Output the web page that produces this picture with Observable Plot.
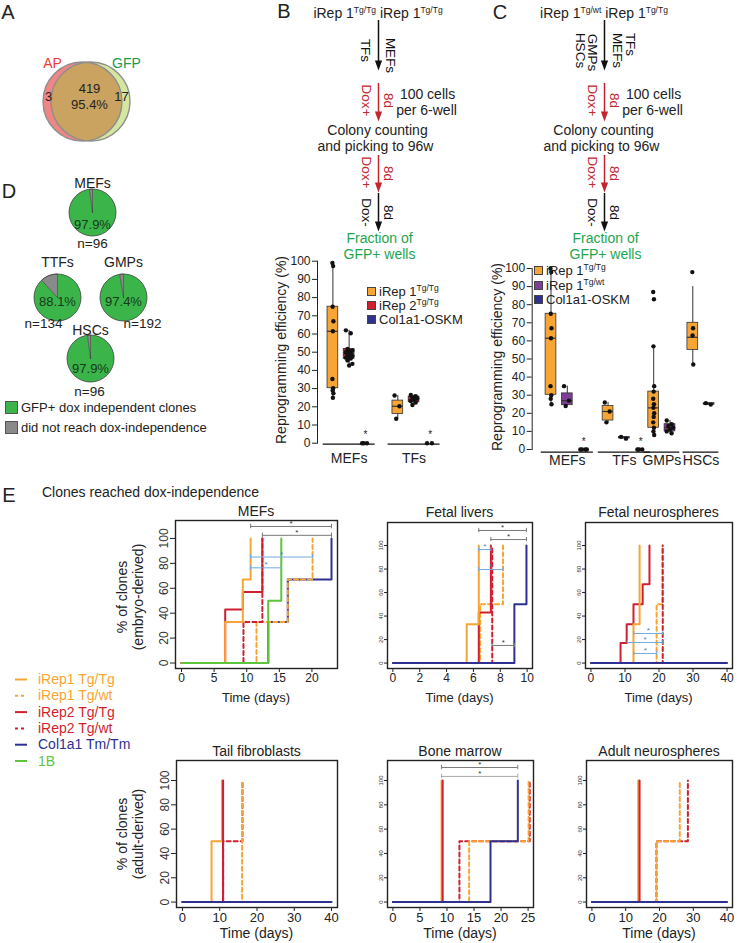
<!DOCTYPE html>
<html><head><meta charset="utf-8">
<script src="https://cdn.jsdelivr.net/npm/d3@7"></script>
<script src="https://cdn.jsdelivr.net/npm/@observablehq/plot@0.6"></script>
<style>
html,body{margin:0;padding:0;background:#fff;}
#fig{position:relative;width:737px;height:943px;overflow:hidden;font-family:"Liberation Sans",Arial,Helvetica,sans-serif;color:#222;}
.abs{position:absolute;}
.t{position:absolute;white-space:nowrap;line-height:1;}
.t sup{font-size:8.5px;vertical-align:0;position:relative;top:-5px;line-height:0;}
svg{overflow:visible;}
</style></head><body><div id="fig"></div>
<script>
// ================= DATA =================
// A: overlap of AP+ and GFP+ colonies
const vennSets = ["AP", "GFP"];
const vennOnly = [3, 17];
const vennShared = 419;
const vennSharedPct = "95.4%";

// B / C: workflow labels
const flowBHeader = ["Tg/Tg", "Tg/Tg"];
const flowCHeader = ["Tg/wt", "Tg/Tg"];
const flowBSources = ["TFs", "MEFs"];
const flowCSourcesLeft = ["HSCs", "GMPs"];
const flowCSourcesRight = ["MEFs", "TFs"];
const flowStepLabels = [["Dox+", "8d"], ["Dox+", "8d"], ["Dox-", "8d"]];
const flowTexts = ["100 cells", "per 6-well", "Colony counting", "and picking to 96w", "Fraction of", "GFP+ wells"];

// B: reprogramming efficiency (%)
const bGroups = ["MEFs", "TFs"];
const bSeries = ["iRep 1", "iRep 2", "Col1a1-OSKM"];
const bSeriesSup = ["Tg/Tg", "Tg/Tg", ""];
// group, series, q1, median, q3, whisker low, whisker high
const bBoxes = [
  [0, 0, 30.2, 61.5, 75, 25, 99],
  [0, 1, 46.3, 49, 51.8, 42.7, 62],
  [1, 0, 16.1, 20.3, 23.4, 13.4, 26.2],
  [1, 1, 22.5, 24, 25.6, 21, 26.5]
];
const bPoints = [
  [0, 0, [99, 97.3, 75, 67, 61.5, 35.3, 30.2, 29, 27.5, 25]],
  [0, 1, [62, 60.4, 51.8, 51, 50.5, 50, 49.5, 49, 48, 47.5, 47, 46.5, 45.5, 43.6, 42.7]],
  [0, 2, [0, 0, 0]],
  [1, 0, [26.2, 20.3, 13.4]],
  [1, 1, [26.5, 25.8, 25.2, 24.6, 24, 23.2, 22.3, 21]],
  [1, 2, [0, 0]]
];
const bStars = [[0, 2], [1, 2]];

// C: reprogramming efficiency (%)
const cGroups = ["MEFs", "TFs", "GMPs", "HSCs"];
const cSeries = ["iRep 1", "iRep 1", "Col1a1-OSKM"];
const cSeriesSup = ["Tg/Tg", "Tg/wt", ""];
const cBoxes = [
  [0, 0, 30.2, 61.5, 75, 25, 99],
  [0, 1, 24.5, 27, 31, 24, 35],
  [1, 0, 16, 21, 24, 15, 26],
  [1, 1, 6.2, 6.5, 6.9, 6, 7],
  [2, 0, 12, 23, 32, 8, 57],
  [2, 1, 10, 12, 14, 9, 16],
  [3, 0, 55, 62, 70, 47, 90],
  [3, 1, 24.8, 25.2, 25.6, 24.8, 25.6]
];
const cPoints = [
  [0, 0, [100, 98, 75, 67, 61.5, 35, 30, 28, 25]],
  [0, 1, [35, 27, 24]],
  [0, 2, [0, 0, 0, 0]],
  [1, 0, [26, 21, 15]],
  [1, 1, [7, 6]],
  [1, 2, [0, 0, 0]],
  [2, 0, [87, 83, 57, 35, 32, 28, 25, 23, 20, 18, 15, 12, 10, 8]],
  [2, 1, [16, 14, 13, 12, 11, 10, 9]],
  [3, 0, [98, 67, 63, 47]],
  [3, 1, [25.6, 24.8]]
];
const cStars = [[0, 2], [1, 2]];

// D: fraction of GFP+ dox independent clones
const pieSources = ["MEFs", "TTFs", "GMPs", "HSCs"];
const pieGFPpct = [97.9, 88.1, 97.4, 97.9];
const pieN = [96, 134, 192, 96];
const pieLegend = ["GFP+ dox independent clones", "did not reach dox-independence"];

// E: % of clones reaching dox-independence over time: [day, %] change points (all start at 0,0)
const eSeries = ["iRep1 Tg/Tg", "iRep1 Tg/wt", "iRep2 Tg/Tg", "iRep2 Tg/wt", "Col1a1 Tm/Tm", "1B"];
const stepMEFs = {
  "iRep1 Tg/Tg": [[6.7, 33], [9.4, 67], [10.6, 100]],
  "iRep1 Tg/wt": [[11.5, 33], [16.3, 67], [20.1, 100]],
  "iRep2 Tg/Tg": [[6.7, 43], [9.4, 57], [12.4, 100]],
  "iRep2 Tg/wt": [[9.5, 33], [12.4, 100]],
  "Col1a1 Tm/Tm": [[13.3, 33], [16.3, 67], [23, 100]],
  "1B": [[13.3, 50], [15.3, 100]]
};
const stepFetalLivers = {
  "iRep1 Tg/Tg": [[5.5, 33], [6.4, 100]],
  "iRep1 Tg/wt": [[6.5, 50], [8.2, 100]],
  "iRep2 Tg/Tg": [[6.4, 43], [7.3, 100]],
  "iRep2 Tg/wt": [[7.4, 100]],
  "Col1a1 Tm/Tm": [[9.05, 50], [9.95, 100]]
};
const stepFetalNeuro = {
  "iRep1 Tg/Tg": [[12.5, 33], [14.3, 100]],
  "iRep1 Tg/wt": [[19.3, 50], [21, 100]],
  "iRep2 Tg/Tg": [[8.7, 17], [10.5, 33], [12.5, 50], [15.2, 67], [17.2, 100]],
  "iRep2 Tg/wt": [[21.1, 100]],
  "Col1a1 Tm/Tm": [[40, 0]]
};
const stepTailFib = {
  "iRep1 Tg/Tg": [[7.8, 50], [10.6, 100]],
  "iRep1 Tg/wt": [[16, 100]],
  "iRep2 Tg/Tg": [[10.9, 100]],
  "iRep2 Tg/wt": [[10.9, 50], [16.1, 100]],
  "Col1a1 Tm/Tm": [[40, 0]]
};
const stepBoneMarrow = {
  "iRep1 Tg/Tg": [[9.0, 100]],
  "iRep1 Tg/wt": [[14.1, 50], [25.1, 100]],
  "iRep2 Tg/Tg": [[9.2, 100]],
  "iRep2 Tg/wt": [[12.3, 50], [25.3, 100]],
  "Col1a1 Tm/Tm": [[18.05, 50], [23.1, 100]]
};
const stepAdultNeuro = {
  "iRep1 Tg/Tg": [[13.7, 100]],
  "iRep1 Tg/wt": [[19.1, 50], [26, 100]],
  "iRep2 Tg/Tg": [[14.1, 100]],
  "iRep2 Tg/wt": [[19.1, 50], [28.4, 100]],
  "Col1a1 Tm/Tm": [[40, 0]]
};
// significance brackets: [day from, day to, height (%), kind]
const sigMEFs = [[10.6, 23, 109.6, "g"], [12.4, 23, 102.5, "g"], [10.6, 20.1, 85.1, "b"], [10.6, 15.3, 76.4, "b"]];
const sigFetalLivers = [[6.4, 9.95, 112.8, "g"], [7.3, 9.95, 105.1, "g"], [6.4, 7.3, 96.6, "b"], [6.4, 8.2, 79.6, "b"], [7.4, 9.05, 15, "g"]];
const sigFetalNeuro = [[12.6, 21.1, 25.2, "b"], [10.7, 21.1, 17.5, "b"], [12.6, 19.3, 8.2, "b"]];
const sigBoneMarrow = [[9.0, 23.1, 110.7, "g"], [9.0, 23.1, 103.4, "lg"]];

// ================= STYLE / HELPERS =================
const FONT = '"Liberation Sans", Arial, Helvetica, sans-serif';
const ORANGE = "#f7a535", RED = "#d01f2f", NAVY = "#2e3192", PURPLE = "#7e3f98", LGREEN = "#5ec43b";
const GTXT = "#1ea64c", DRED = "#c4242c", INK = "#222";
const eColor = [ORANGE, ORANGE, RED, RED, NAVY, LGREEN];
const eDash = [false, true, false, true, false, false];
const fig = document.getElementById("fig");

function put(node, left, top, w, h) {
  const d = document.createElement("div");
  d.className = "abs";
  d.style.left = left + "px"; d.style.top = top + "px";
  if (w) d.style.width = w + "px";
  if (h) d.style.height = h + "px";
  d.appendChild(node); fig.appendChild(d); return d;
}
function txt(html, x, y, o = {}) {
  const {size = 14, color = INK, anchor = "middle", rot = 0} = o;
  const d = document.createElement("div");
  d.className = "t"; d.innerHTML = html;
  d.style.fontSize = size + "px"; d.style.color = color;
  d.style.left = x + "px"; d.style.top = y + "px";
  const tx = anchor === "middle" ? "-50%" : anchor === "end" ? "-100%" : "0";
  d.style.transform = `translate(${tx},-50%)` + (rot ? ` rotate(${rot}deg)` : "");
  fig.appendChild(d);
}
function pix(left, top, w, h, marks) {
  const svg = Plot.plot({
    width: w, height: h, marginTop: 0, marginRight: 0, marginBottom: 0, marginLeft: 0,
    x: {domain: [left, left + w], range: [0, w], axis: null},
    y: {domain: [top, top + h], range: [0, h], axis: null},
    style: {background: "transparent", fontFamily: FONT, overflow: "visible", color: INK},
    marks
  });
  put(svg, left, top, w, h);
}

// ================= PANEL LETTERS =================
[["A", 8, 12], ["B", 284, 11], ["C", 500, 12], ["D", 9, 191], ["E", 9, 495]].forEach(([l, x, y]) => txt(l, x, y, {size: 20}));

// ================= A: Venn =================
(function () {
  const R = 39.5;
  const red = {cx: 82, cy: 101, r: R}, grn = {cx: 90, cy: 101, r: R};
  const lens = [];
  for (let i = 0; i < 360; i += 2) {
    const a = i * Math.PI / 180;
    const xr = red.cx + red.r * Math.cos(a), yr = red.cy + red.r * Math.sin(a);
    if (Math.hypot(xr - grn.cx, yr - grn.cy) <= grn.r) lens.push({x: xr, y: yr});
    const xg = grn.cx + grn.r * Math.cos(a), yg = grn.cy + grn.r * Math.sin(a);
    if (Math.hypot(xg - red.cx, yg - red.cy) <= red.r) lens.push({x: xg, y: yg});
  }
  const mx = (red.cx + grn.cx) / 2;
  lens.sort((p, q) => Math.atan2(p.y - red.cy, p.x - mx) - Math.atan2(q.y - red.cy, q.x - mx));
  pix(0, 40, 150, 120, [
    Plot.dot([grn], {x: "cx", y: "cy", r: R, fill: "#d4e7a1"}),
    Plot.dot([red], {x: "cx", y: "cy", r: R, fill: "#ef8585"}),
    Plot.line(lens, {x: "x", y: "y", fill: "#c9a35f", stroke: "none"}),
    Plot.dot([red, grn], {x: "cx", y: "cy", r: R, fill: "none", stroke: "#8e8e8e", strokeWidth: 1.4}),
    Plot.text([{t: vennSets[0], x: 52, y: 63}], {x: "x", y: "y", text: "t", fill: "#ee3b3b", fontSize: 14}),
    Plot.text([{t: vennSets[1], x: 126, y: 63}], {x: "x", y: "y", text: "t", fill: "#1a9a4c", fontSize: 14}),
    Plot.text([{t: String(vennOnly[0]), x: 48, y: 96}, {t: String(vennOnly[1]), x: 121, y: 96},
               {t: String(vennShared), x: 89, y: 88}, {t: vennSharedPct, x: 89, y: 104}],
      {x: "x", y: "y", text: "t", fill: INK, fontSize: 13})
  ]);
})();

// ================= B / C: workflows =================
(function () {
  const arrows = [[20, 70, "#111"], [83, 121, DRED], [155, 192, DRED], [193, 231, "#111"]];
  const marks = [];
  for (const X of [378, 604]) {
    for (const [y1, y2, c] of arrows) {
      marks.push(Plot.ruleX([{x: X, y1, y2: y2 - 8}], {x: "x", y1: "y1", y2: "y2", stroke: c, strokeWidth: 1.5}));
      marks.push(Plot.line([{x: X - 3.6, y: y2 - 10}, {x: X + 3.6, y: y2 - 10}, {x: X, y: y2}], {x: "x", y: "y", fill: c, stroke: "none"}));
    }
    const rot = [];
    const stepY = [[100, 100], [172, 173], [212, 212]];
    flowStepLabels.forEach(([l, r], i) => {
      const c = i < 2 ? DRED : "#111";
      rot.push({t: l, x: X - 12, y: stepY[i][0], c});
      rot.push({t: r, x: X + 10, y: stepY[i][1], c});
    });
    if (X === 378) {
      rot.push({t: flowBSources[0], x: X - 13, y: 50, c: "#111"});
      rot.push({t: flowBSources[1], x: X + 12, y: 55, c: "#111"});
    } else {
      rot.push({t: flowCSourcesLeft[0], x: X - 24, y: 50, c: "#111"});
      rot.push({t: flowCSourcesLeft[1], x: X - 12, y: 52, c: "#111"});
      rot.push({t: flowCSourcesRight[0], x: X + 13, y: 50, c: "#111"});
      rot.push({t: flowCSourcesRight[1], x: X + 26, y: 44, c: "#111"});
    }
    for (const c of ["#111", DRED]) {
      marks.push(Plot.text(rot.filter(d => d.c === c), {x: "x", y: "y", text: "t", rotate: 90, fill: c, fontSize: 13.5}));
    }
    const hz = [[49, 94], [48, 110], [-1, 130], [-3, 146], [1, 238], [1, 254]];
    const hd = flowTexts.map((t, i) => ({t, x: X + hz[i][0], y: hz[i][1], g: i >= 4}));
    marks.push(Plot.text(hd.filter(d => !d.g), {x: "x", y: "y", text: "t", fill: INK, fontSize: 14}));
    marks.push(Plot.text(hd.filter(d => d.g), {x: "x", y: "y", text: "t", fill: GTXT, fontSize: 14}));
  }
  pix(270, 0, 467, 262, marks);
  txt(`iRep 1<sup>${flowBHeader[0]}</sup> iRep 1<sup>${flowBHeader[1]}</sup>`, 378, 13, {size: 14});
  txt(`iRep 1<sup>${flowCHeader[0]}</sup> iRep 1<sup>${flowCHeader[1]}</sup>`, 604, 13, {size: 14});
})();

// ================= B / C: box plots =================
function boxPanel(o) {
  const {left, top, width, height, axisX, zeroY, hundredY, pos0X, unitX, posOf, groups, boxes, points, stars, colors, labelDy, lineVal} = o;
  const MR = 2;
  const ML = axisX - left, MT = hundredY - top, MB = top + height - zeroY;
  const xmin = (axisX - pos0X) / unitX, xmax = (left + width - MR - pos0X) / unitX;
  const bx = boxes.map(([g, s, q1, med, q3, lo, hi]) => ({s, pos: posOf(g, s), q1, med, q3, lo, hi}));
  const pts = points.flatMap(([g, s, vals]) => {
    const box = boxes.find(b => b[0] === g && b[1] === s);
    const amp = box && box[4] - box[2] > 10 ? 0.03 : 0.2;
    return vals.map((v, i) => ({x: posOf(g, s) + amp * (((i * 3) % 5) - 2) / 2, y: v}));
  });
  const gl = groups.map((name, gi) => {
    const ps = boxes.filter(b => b[0] === gi).map(b => posOf(gi, b[1]))
      .concat(points.filter(p => p[0] === gi).map(p => posOf(gi, p[1])));
    const a = Math.min(...ps), b = Math.max(...ps);
    return {name, x1: a - 0.6, x2: b + 0.6, xc: (a + b) / 2};
  });
  const marks = [];
  marks.push(Plot.ruleY(gl, {x1: "x1", x2: "x2", y: () => lineVal, stroke: "#111", strokeWidth: 1.3}));
  marks.push(Plot.text(gl, {x: "xc", y: () => 0, text: "name", dy: labelDy, fontSize: 14, fill: INK}));
  marks.push(Plot.ruleX(bx, {x: "pos", y1: "lo", y2: "hi", stroke: "#333", strokeWidth: 1}));
  colors.forEach((c, s) => {
    marks.push(Plot.rect(bx.filter(d => d.s === s), {x1: d => d.pos - 0.33, x2: d => d.pos + 0.33, y1: "q1", y2: "q3", fill: c, stroke: "#333", strokeWidth: 0.8}));
  });
  marks.push(Plot.ruleY(bx, {x1: d => d.pos - 0.33, x2: d => d.pos + 0.33, y: "med", stroke: "#333", strokeWidth: 1.2}));
  marks.push(Plot.dot(pts, {x: "x", y: "y", r: 2.2, fill: "#111", stroke: "none"}));
  marks.push(Plot.text(stars.map(([g, s]) => ({x: posOf(g, s)})), {x: "x", y: () => 0, text: () => "*", dy: -8, fontSize: 10, fill: "#222"}));
  const svg = Plot.plot({
    width, height, marginLeft: ML, marginRight: MR, marginTop: MT, marginBottom: MB,
    x: {domain: [xmin, xmax], axis: null},
    y: {domain: [0, 100], ticks: d3.range(0, 101, 10), tickSize: 5, tickPadding: 2, line: true, label: null},
    style: {background: "transparent", fontFamily: FONT, fontSize: "12px", overflow: "visible", color: INK},
    marks
  });
  put(svg, left, top, width, height);
}

boxPanel({left: 265, top: 250, width: 190, height: 215, axisX: 317, zeroY: 442.7, hundredY: 260.7, pos0X: 332.4, unitX: 16.23,
  posOf: (g, s) => g * 4 + s, groups: bGroups, boxes: bBoxes, points: bPoints, stars: bStars,
  colors: [ORANGE, RED, NAVY], labelDy: 15.5, lineVal: -0.5});
const cPos = [[0, 1, 2], [3.5, 4.5, 5.5], [6.3, 7.3], [8.7, 9.7]];
boxPanel({left: 480, top: 250, width: 257, height: 220, axisX: 531.7, zeroY: 449, hundredY: 268, pos0X: 550.5, unitX: 16.3,
  posOf: (g, s) => cPos[g][s], groups: cGroups, boxes: cBoxes, points: cPoints, stars: cStars,
  colors: [ORANGE, PURPLE, NAVY], labelDy: 11, lineVal: -1.4});

txt("Reprogramming efficiency (%)", 281, 350, {size: 14, rot: -90});
txt("Reprogramming efficiency (%)", 497, 357, {size: 14, rot: -90});

function legendBox(x, ys, names, sups, colors) {
  names.forEach((n, i) => {
    const sq = document.createElement("div");
    sq.style.cssText = `position:absolute;left:${x}px;top:${ys[i] - 4}px;width:7px;height:7px;background:${colors[i]};border:1px solid #444;`;
    fig.appendChild(sq);
    txt(n + (sups[i] ? `<sup>${sups[i]}</sup>` : ""), x + 12, ys[i], {size: 13, anchor: "start"});
  });
}
legendBox(367, [291, 305, 319], bSeries, bSeriesSup, [ORANGE, RED, NAVY]);
legendBox(534, [270, 284.5, 299], cSeries, cSeriesSup, [ORANGE, PURPLE, NAVY]);

// ================= D: pies =================
(function () {
  const R = 23.5;
  const lay = [
    {cx: 92, cy: 212, ty: 183, nx: 92, ny: 243, py: 224},
    {cx: 57, cy: 297, ty: 262, nx: 43, ny: 323, py: 301},
    {cx: 123, cy: 297, ty: 262, nx: 142, ny: 323, py: 301},
    {cx: 90, cy: 358, ty: 330, nx: 89, ny: 391, py: 368}];
  function wedge(cx, cy, a0, a1, k) {
    const out = [{k, x: cx, y: cy}];
    const n = Math.max(2, Math.ceil(Math.abs(a1 - a0) / 3));
    for (let i = 0; i <= n; i++) {
      const a = (a0 + (a1 - a0) * i / n) * Math.PI / 180;
      out.push({k, x: cx + R * Math.sin(a), y: cy - R * Math.cos(a)});
    }
    out.push({k, x: cx, y: cy});
    return out;
  }
  const green = [], gray = [];
  pieGFPpct.forEach((p, i) => {
    const g = 360 * (100 - p) / 100, L = lay[i];
    gray.push(...wedge(L.cx, L.cy, -g, 0, i));
    green.push(...wedge(L.cx, L.cy, 0, 360 - g, i));
  });
  pix(0, 165, 180, 245, [
    Plot.line(green, {x: "x", y: "y", z: "k", fill: "#3bb54a", stroke: "none"}),
    Plot.line(gray, {x: "x", y: "y", z: "k", fill: "#8a8a8a", stroke: "#333", strokeWidth: 0.6}),
    Plot.dot(lay, {x: "cx", y: "cy", r: R, fill: "none", stroke: "#444", strokeWidth: 0.8}),
    Plot.text(lay.map((L, i) => ({x: L.cx, y: L.ty, t: pieSources[i]})), {x: "x", y: "y", text: "t", fontSize: 14, fill: INK}),
    Plot.text(lay.map((L, i) => ({x: L.nx, y: L.ny, t: "n=" + pieN[i]})), {x: "x", y: "y", text: "t", fontSize: 13.5, fill: INK}),
    Plot.text(lay.map((L, i) => ({x: L.cx, y: L.py, t: pieGFPpct[i].toFixed(1) + "%"})), {x: "x", y: "y", text: "t", fontSize: 13, fill: "#173a1c"})
  ]);
  [["#3bb54a", 407], ["#8a8a8a", 427]].forEach(([c, y], i) => {
    const sq = document.createElement("div");
    sq.style.cssText = `position:absolute;left:5px;top:${y - 6}px;width:11px;height:11px;background:${c};border:1px solid #555;`;
    fig.appendChild(sq);
    txt(pieLegend[i], 21, y, {size: 13, anchor: "start"});
  });
})();

// ================= E: step plots =================
txt("Clones reached dox-independence", 42, 492, {size: 14, anchor: "start"});

function stepPanel(cfg) {
  const [fl, ft, fr, fb] = cfg.frame;
  const ML = 40, MR = 8, MT = 8, MB = 34;
  const w = fr - fl + ML + MR, h = fb - ft + MT + MB;
  const marks = [];
  for (const name of cfg.order) {
    const i = eSeries.indexOf(name);
    const pts = [[0, 0], ...cfg.steps[name]].map(([t, p]) => ({t, p}));
    marks.push(Plot.line(pts, {x: "t", y: "p", curve: "step-after", stroke: eColor[i], strokeWidth: 2,
      ...(eDash[i] ? {strokeDasharray: "4,3"} : {})}));
  }
  if (cfg.sig) {
    const sig = cfg.sig.map(([x1, x2, y, k]) => ({x1, x2, y, k}));
    const col = {g: "#7a7a7a", lg: "#a8a8a8", b: "#74a9dc"};
    const star = {g: "#333", lg: "#333", b: "#3d85c6"};
    for (const k of ["g", "lg", "b"]) {
      const d = sig.filter(s => s.k === k);
      if (!d.length) continue;
      marks.push(Plot.ruleY(d, {x1: "x1", x2: "x2", y: "y", stroke: col[k], strokeWidth: 1}));
      const ends = d.flatMap(s => [{x: s.x1, y: s.y}, {x: s.x2, y: s.y}]);
      marks.push(Plot.ruleX(ends, {x: "x", y1: e => e.y - 1.8, y2: e => e.y + 1.8, stroke: col[k], strokeWidth: 1}));
      marks.push(Plot.text(d, {x: s => (s.x1 + s.x2) / 2, y: "y", text: () => "*", dy: -3, fontSize: 8, fill: star[k]}));
    }
  }
  marks.push(Plot.frame({stroke: "#222", strokeWidth: 1.4}));
  const yt = [0, 20, 40, 60, 80, 100];
  marks.push(Plot.text(yt.map(v => ({v})), {x: () => cfg.xd[0], y: "v", text: d => String(d.v), rotate: -90,
    dx: cfg.big ? -11 : -6.5, fontSize: cfg.big ? 12 : 6, fill: "#333"}));
  const svg = Plot.plot({
    width: w, height: h, marginLeft: ML, marginRight: MR, marginTop: MT, marginBottom: MB,
    x: {domain: cfg.xd, ticks: cfg.xt, tickSize: 4, tickPadding: 1, label: null, tickFormat: d => String(d)},
    y: {domain: cfg.yd, ticks: yt, tickSize: cfg.big ? 5 : 3, tickPadding: 0, tickFormat: () => "", label: null},
    style: {background: "transparent", fontFamily: FONT, fontSize: cfg.tf + "px", overflow: "visible", color: INK},
    marks
  });
  put(svg, fl - ML, ft - MT, w, h);
  txt(cfg.title, (fl + fr) / 2, cfg.titleY, {size: 14});
  txt("Time (days)", (fl + fr) / 2, cfg.xlabY, {size: cfg.tf + 1});
}

const orderA = ["Col1a1 Tm/Tm", "iRep1 Tg/wt", "iRep2 Tg/wt", "iRep2 Tg/Tg", "iRep1 Tg/Tg", "1B"];
const orderB = ["iRep1 Tg/wt", "iRep2 Tg/wt", "iRep2 Tg/Tg", "iRep1 Tg/Tg", "Col1a1 Tm/Tm"];
const orderC = ["iRep2 Tg/wt", "iRep1 Tg/wt", "iRep1 Tg/Tg", "iRep2 Tg/Tg", "Col1a1 Tm/Tm"];
const top1 = [-4.4, 114.4], top2 = [-4.6, 119.6], bot = [-4.48, 116.48];
stepPanel({title: "MEFs", frame: [175, 520, 337, 668], xd: [-0.92, 23.92], yd: top1, xt: [0, 5, 10, 15, 20], steps: stepMEFs, order: orderA, sig: sigMEFs, big: true, tf: 12, titleY: 511, xlabY: 697});
stepPanel({title: "Fetal livers", frame: [387, 522, 532, 668], xd: [-0.4, 10.4], yd: top2, xt: [0, 2, 4, 6, 8, 10], steps: stepFetalLivers, order: orderB, sig: sigFetalLivers, big: false, tf: 12, titleY: 512, xlabY: 697});
stepPanel({title: "Fetal neurospheres", frame: [585, 522, 732, 668], xd: [-1.6, 41.6], yd: top2, xt: [0, 10, 20, 30, 40], steps: stepFetalNeuro, order: orderB, sig: sigFetalNeuro, big: false, tf: 12, titleY: 512, xlabY: 697});
stepPanel({title: "Tail fibroblasts", frame: [176, 760, 337, 907], xd: [-1.6, 41.6], yd: bot, xt: [0, 10, 20, 30, 40], steps: stepTailFib, order: orderC, big: true, tf: 13, titleY: 751, xlabY: 933});
stepPanel({title: "Bone marrow", frame: [387, 760, 533, 907], xd: [-1, 26], yd: bot, xt: [0, 5, 10, 15, 20, 25], steps: stepBoneMarrow, order: orderC, sig: sigBoneMarrow, big: false, tf: 13, titleY: 751, xlabY: 933});
stepPanel({title: "Adult neurospheres", frame: [586, 760, 732, 907], xd: [-1.6, 41.6], yd: bot, xt: [0, 10, 20, 30, 40], steps: stepAdultNeuro, order: orderC, big: false, tf: 13, titleY: 751, xlabY: 933});

txt("% of clones", 122, 597, {size: 14, rot: -90});
txt("(embryo-derived)", 138, 597, {size: 14, rot: -90});
txt("% of clones", 122, 834, {size: 14, rot: -90});
txt("(adult-derived)", 138, 834, {size: 14, rot: -90});

// E legend
(function () {
  const y0 = 679, dy = 16.3;
  const marks = eSeries.map((s, i) => Plot.ruleY([y0 + i * dy], {x1: 15, x2: 27, stroke: eColor[i], strokeWidth: 2,
    ...(eDash[i] ? {strokeDasharray: "3,3"} : {})}));
  pix(0, 665, 140, 110, marks);
  eSeries.forEach((s, i) => txt(s, 38, y0 + i * dy, {size: 14, anchor: "start", color: eColor[i]}));
})();
</script></body></html>
